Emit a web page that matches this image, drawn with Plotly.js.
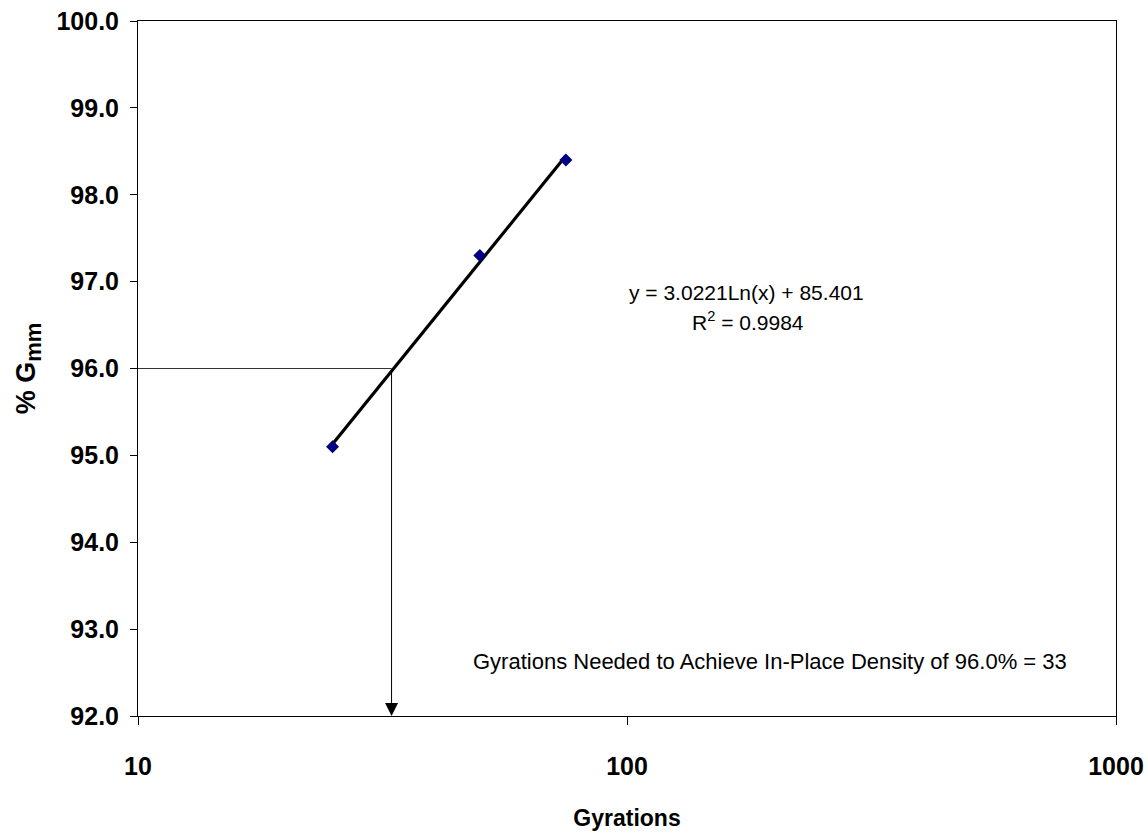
<!DOCTYPE html>
<html>
<head>
<meta charset="utf-8">
<script src="https://cdn.plot.ly/plotly-3.0.1.min.js"></script>
<style>html,body{margin:0;padding:0;background:#fff;}#chart{width:1148px;height:836px;}</style>
</head>
<body>
<div id="chart"></div>
<script>
// Measured data
const gyrations = [25, 50, 75];
const gmm = [95.1, 97.3, 98.4];
// Logarithmic trendline endpoints (y = 3.0221 Ln(x) + 85.401)
const trendX = [25, 75];
const trendY = [95.13, 98.45];
// Target density reference
const targetDensity = 96.0;
const targetGyrations = 33;
const refX = [10, targetGyrations];
const refY = [targetDensity, targetDensity];
const yTicks = [92, 93, 94, 95, 96, 97, 98, 99, 100];
const xTicks = [10, 100, 1000];
const xTickText = ['10', '100', '1000'];
const eqText = 'y = 3.0221Ln(x) + 85.401';
const r2Text = 'R<sup>2</sup> = 0.9984';
const noteText = 'Gyrations Needed to Achieve In-Place Density of 96.0% = 33';

const FONT = 'Liberation Sans, Arial, sans-serif';
const W = 1148, H = 836, L = 138, R = 32, T = 21, B = 120;
const pw = W - L - R, ph = H - T - B;
function px(xp) { return (xp - L) / pw; }
function py(yp) { return (H - B - yp) / ph; }

const traces = [
  {x: refX, y: refY, mode: 'lines', line: {color: '#333333', width: 1}, hoverinfo: 'skip', showlegend: false},
  {x: trendX, y: trendY, mode: 'lines', line: {color: '#000000', width: 3.2}, showlegend: false},
  {x: gyrations, y: gmm, mode: 'markers', marker: {symbol: 'diamond', size: 10, color: '#000080'}, showlegend: false, cliponaxis: false}
];

const layout = {
  width: W, height: H,
  margin: {l: L, r: R, t: T, b: B},
  paper_bgcolor: '#ffffff', plot_bgcolor: '#ffffff',
  showlegend: false,
  font: {family: FONT, color: '#000'},
  xaxis: {
    type: 'log', range: [1, 3],
    tickvals: xTicks, ticktext: xTickText,
    ticks: 'outside', ticklen: 8, tickcolor: '#000', tickwidth: 1,
    ticklabelstandoff: 20,
    showgrid: false, zeroline: false,
    showline: true, linecolor: '#000', linewidth: 1, mirror: true,
    tickfont: {family: FONT, size: 25, color: '#000', weight: 'bold'},
    title: {text: '<b>Gyrations</b>', font: {family: FONT, size: 23, color: '#000'}, standoff: 30}
  },
  yaxis: {
    range: [92, 100],
    tickvals: yTicks, tickformat: '.1f',
    ticks: 'outside', ticklen: 7, tickcolor: '#000', tickwidth: 1,
    ticklabelstandoff: 6,
    showgrid: false, zeroline: false,
    showline: true, linecolor: '#000', linewidth: 1, mirror: true,
    tickfont: {family: FONT, size: 25, color: '#000', weight: 'bold'},
    title: {text: '<b>% G<sub><span style="font-size:22px">mm</span></sub></b>', font: {family: FONT, size: 27, color: '#000'}, standoff: 12}
  },
  annotations: [
    {x: Math.log10(targetGyrations), y: 92, ax: Math.log10(targetGyrations), ay: targetDensity,
     xref: 'x', yref: 'y', axref: 'x', ayref: 'y', text: '', showarrow: true,
     arrowhead: 2, arrowsize: 2.6, arrowwidth: 1, arrowcolor: '#000'},
    {xref: 'paper', yref: 'paper', x: px(746), y: py(292), text: eqText, showarrow: false,
     font: {family: FONT, size: 21, color: '#000'}, xanchor: 'center', yanchor: 'middle'},
    {xref: 'paper', yref: 'paper', x: px(748), y: py(321), text: r2Text, showarrow: false,
     font: {family: FONT, size: 21, color: '#000'}, xanchor: 'center', yanchor: 'middle'},
    {xref: 'paper', yref: 'paper', x: px(770), y: py(661), text: noteText, showarrow: false,
     font: {family: FONT, size: 22, color: '#000'}, xanchor: 'center', yanchor: 'middle'}
  ]
};

Plotly.newPlot('chart', traces, layout, {staticPlot: true, displayModeBar: false});
</script>
</body>
</html>
